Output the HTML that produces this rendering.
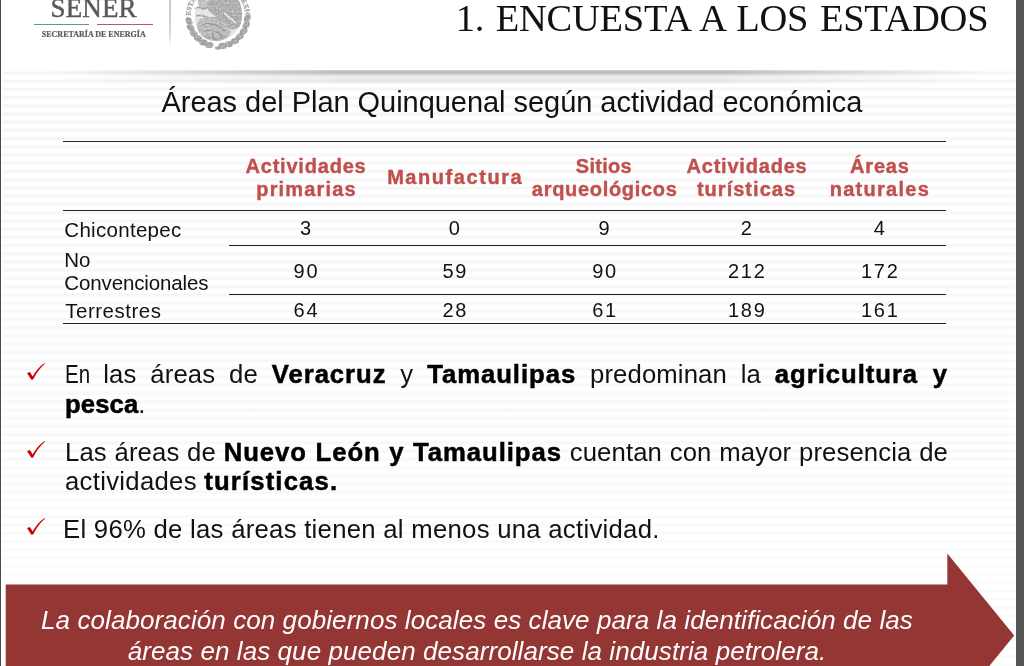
<!DOCTYPE html>
<html lang="es">
<head>
<meta charset="utf-8">
<title>1. Encuesta a los estados</title>
<style>
html,body{margin:0;padding:0;}
body{width:1024px;height:666px;overflow:hidden;position:relative;background:#fff;font-family:"Liberation Sans",sans-serif;color:#111;}
.abs{position:absolute;white-space:nowrap;}
#stripes{position:absolute;left:2px;top:71px;width:1012.5px;height:595px;
  background:linear-gradient(to bottom,rgba(255,255,255,0) 0,rgba(255,255,255,.55) 100%),
  repeating-linear-gradient(to bottom,#fbfbfb 0px,#f5f5f5 1.4px,#f5f5f5 2.2px,#fbfbfb 3.5px,#ffffff 4.1px,#ffffff 7.7px,#fbfbfb 8.223px);}
#lborder{position:absolute;left:0;top:0;width:2px;height:666px;background:linear-gradient(to right,#4a4a4a 0,#4a4a4a 1px,#b5b5b5 1px,#b5b5b5 1.4px,#fff 1.4px);}
#rborder{position:absolute;left:1016px;top:0;width:8px;height:666px;background:#555;}
#shadow{position:absolute;left:2px;top:69.8px;width:1014px;height:14px;
  background:linear-gradient(to bottom,rgba(0,0,0,0) 0,rgba(0,0,0,.235) 0.6px,rgba(0,0,0,.22) 3.4px,rgba(0,0,0,.12) 5px,rgba(0,0,0,.07) 7px,rgba(0,0,0,.05) 13px,rgba(0,0,0,0) 13.8px);
  -webkit-mask-image:linear-gradient(to right,rgba(0,0,0,0) 50px,rgba(0,0,0,.5) 200px,#000 340px,#000 720px,rgba(0,0,0,.45) 860px,rgba(0,0,0,0) 985px);
  mask-image:linear-gradient(to right,rgba(0,0,0,0) 50px,rgba(0,0,0,.5) 200px,#000 340px,#000 720px,rgba(0,0,0,.45) 860px,rgba(0,0,0,0) 985px);}
#title{left:455.7px;top:-5.4px;letter-spacing:-0.25px;word-spacing:2.3px;font-family:"Liberation Serif",serif;font-size:38.5px;line-height:46px;color:#111;}
#subtitle{left:161.5px;top:84px;font-size:29px;letter-spacing:-0.04px;line-height:36px;color:#111;}

/* logo */
#sener{left:50.6px;top:-9.6px;font-family:"Liberation Serif",serif;font-size:27px;line-height:36px;color:#595959;-webkit-text-stroke:0.45px #595959;letter-spacing:0.1px;}
#gline{position:absolute;left:34px;top:23.5px;width:55px;height:1.6px;background:#5d9e7d;}
#rline{position:absolute;left:97px;top:23.5px;width:56px;height:1.6px;background:#c4516e;}
#secre{left:41.8px;top:29.3px;font-family:"Liberation Serif",serif;font-weight:bold;font-size:8px;line-height:12px;color:#5a5a5a;-webkit-text-stroke:0.2px #5a5a5a;}
#vdiv{position:absolute;left:169px;top:-2px;width:2.2px;height:49px;background:linear-gradient(to bottom,#c9c9c9 0,#d2d2d2 65%,rgba(225,225,225,0) 100%);filter:blur(0.5px);}

/* table */
.hl{position:absolute;height:1.3px;background:#222;}
.th{position:absolute;text-align:center;font-weight:bold;font-size:20px;line-height:24px;color:#c0504d;-webkit-text-stroke:0.4px #c0504d;white-space:nowrap;transform:translateX(-50%);}
.td{position:absolute;text-align:center;font-size:20px;line-height:24px;color:#111;white-space:nowrap;transform:translateX(-50%);letter-spacing:1.7px;margin-left:0.85px;}
.rl{position:absolute;left:65px;font-size:20.5px;line-height:23.5px;color:#111;white-space:nowrap;}

/* bullets */
.bl{position:absolute;left:65px;width:883px;font-size:25.7px;line-height:30px;color:#111;}
.bl{letter-spacing:0.12px;}
.bl b{font-weight:bold;color:#000;letter-spacing:0.95px;-webkit-text-stroke:0.5px #000;}
.ck{position:absolute;left:26.7px;width:18px;height:18px;overflow:visible;}

/* banner */
#arrow{position:absolute;left:0;top:540px;width:1024px;height:126px;}
#btext{position:absolute;left:6px;width:942px;top:604.9px;text-align:center;font-style:italic;font-size:26px;line-height:30.7px;color:#fff;white-space:nowrap;letter-spacing:0.08px;}
</style>
</head>
<body>
<div id="stripes"></div>
<div id="shadow"></div>
<div id="lborder"></div>
<div id="rborder"></div>

<!-- logo -->
<div id="sener" class="abs">SENER</div>
<div id="gline"></div><div id="rline"></div>
<div id="secre" class="abs">SECRETARÍA DE ENERGÍA</div>
<div id="vdiv"></div>
<svg id="emblem" class="abs" style="left:180px;top:-21.5px" width="76" height="76" viewBox="-38 -38 76 76">
  <defs>
    <filter id="tx" x="-5%" y="-5%" width="110%" height="110%">
      <feTurbulence type="fractalNoise" baseFrequency="0.55" numOctaves="2" seed="7" result="n"/>
      <feColorMatrix in="n" type="matrix" values="0 0 0 0 0  0 0 0 0 0  0 0 0 0 0  0 0 0 -1.2 1.5" result="a"/>
      <feComposite in="SourceGraphic" in2="a" operator="in" result="c"/>
      <feGaussianBlur in="c" stdDeviation="0.6"/>
    </filter>
    <path id="arc" d="M -27.6 -1 A 27.6 27.6 0 0 1 27.6 -1"/>
  </defs>
  <g filter="url(#tx)">
    <circle cx="0" cy="0" r="23.5" fill="#e4e4e4"/>
    <text font-family="Liberation Serif,serif" font-weight="bold" font-size="6.8" fill="#969696" stroke="#969696" stroke-width="0.3" letter-spacing="0.15"><textPath href="#arc" startOffset="0.3">ESTADOS UNIDOS MEXICANOS</textPath></text>
    <g fill="#9c9c9c"><ellipse cx="29.3" cy="1.5" rx="4.3" ry="3.1" transform="rotate(113 29.3 1.5)"/><ellipse cx="28.2" cy="8.1" rx="4.3" ry="3.1" transform="rotate(126 28.2 8.1)"/><ellipse cx="25.6" cy="14.2" rx="4.3" ry="3.1" transform="rotate(139 25.6 14.2)"/><ellipse cx="21.8" cy="19.6" rx="4.3" ry="3.1" transform="rotate(152 21.8 19.6)"/><ellipse cx="16.8" cy="24.0" rx="4.3" ry="3.1" transform="rotate(165 16.8 24.0)"/><ellipse cx="11.0" cy="27.2" rx="4.3" ry="3.1" transform="rotate(178 11.0 27.2)"/><ellipse cx="4.6" cy="28.9" rx="4.3" ry="3.1" transform="rotate(191 4.6 28.9)"/><ellipse cx="-8.6" cy="28.0" rx="4.3" ry="3.1" transform="rotate(177 -8.6 28.0)"/><ellipse cx="-14.6" cy="25.4" rx="4.3" ry="3.1" transform="rotate(190 -14.6 25.4)"/><ellipse cx="-20.0" cy="21.4" rx="4.3" ry="3.1" transform="rotate(203 -20.0 21.4)"/><ellipse cx="-24.3" cy="16.4" rx="4.3" ry="3.1" transform="rotate(216 -24.3 16.4)"/><ellipse cx="-27.4" cy="10.5" rx="4.3" ry="3.1" transform="rotate(229 -27.4 10.5)"/><ellipse cx="-29.0" cy="4.1" rx="4.3" ry="3.1" transform="rotate(242 -29.0 4.1)"/><ellipse cx="0" cy="31" rx="3.4" ry="1.7"/></g>
    <!-- wing -->
    <path d="M -9 -27 C 0 -31 16 -27 21 -16 C 25 -8 25 2 22 9 C 18 14 11 13 7 9 C 2 3 -4 -2 -9 -6 C -12 -12 -12 -22 -9 -27 Z" fill="#a6a6a6"/>
    <!-- head, neck -->
    <path d="M -20 -19 C -15 -24 -10 -22 -9 -17 C -9 -12 -12 -9 -15 -6 C -17 -9 -21 -12 -20 -19 Z" fill="#b9b9b9"/>
    <!-- snake -->
    <path d="M -23 -8 C -19 -13 -16 -6 -12 -9 C -8 -12 -6 -4 -2 -2 M -22 -1 C -16 -4 -12 2 -6 1 C -2 0 2 4 6 6" fill="none" stroke="#a0a0a0" stroke-width="1.8"/>
    <!-- body + cactus -->
    <path d="M -18 2 C -8 -2 2 2 11 10 C 15 14 12 20 5 23 C -4 26 -13 23 -18 17 C -22 12 -22 6 -18 2 Z" fill="#b4b4b4"/>
    <path d="M -16 8 C -8 5 0 8 7 14 M -14 14 C -6 12 0 15 5 19 M -6 16 L -3 23 M 1 14 L 3 22 M -12 19 C -6 23 2 23 8 19" fill="none" stroke="#929292" stroke-width="1.4"/>
    <!-- wing highlight -->
    <path d="M 6 -4 L 18 6" stroke="#f6f6f6" stroke-width="1.2" fill="none"/>
  </g>
</svg>

<div id="title" class="abs">1. ENCUESTA A LOS ESTADOS</div>
<div id="subtitle" class="abs">Áreas del Plan Quinquenal según actividad económica</div>

<!-- table -->
<div class="hl" style="left:63px;width:883px;top:140.7px"></div>
<div class="hl" style="left:63px;width:883px;top:210px"></div>
<div class="hl" style="left:228.5px;width:717.5px;top:245px"></div>
<div class="hl" style="left:228.5px;width:717.5px;top:294px"></div>
<div class="hl" style="left:63px;width:883px;top:323px"></div>

<div class="th" style="left:306.0px;top:153.6px;letter-spacing:0.79px">Actividades</div>
<div class="th" style="left:306.5px;top:177.4px;letter-spacing:1.15px">primarias</div>
<div class="th" style="left:455.2px;top:164.8px;letter-spacing:1.56px">Manufactura</div>
<div class="th" style="left:603.9px;top:153.6px;letter-spacing:0.3px">Sitios</div>
<div class="th" style="left:604.7px;top:177.4px;letter-spacing:0.69px">arqueológicos</div>
<div class="th" style="left:747.0px;top:153.6px;letter-spacing:0.79px">Actividades</div>
<div class="th" style="left:746.5px;top:177.4px;letter-spacing:1.02px">turísticas</div>
<div class="th" style="left:879.9px;top:153.6px;letter-spacing:0.86px">Áreas</div>
<div class="th" style="left:879.9px;top:177.4px;letter-spacing:1.27px">naturales</div>

<div class="rl" style="top:217.7px;left:64.3px;letter-spacing:0.3px">Chicontepec</div>
<div class="rl" style="top:247.8px;left:64.3px;letter-spacing:-0.13px">No<br>Convencionales</div>
<div class="rl" style="top:299px;left:65.3px;letter-spacing:0.5px">Terrestres</div>

<div class="td" style="left:305.6px;top:216.3px">3</div>
<div class="td" style="left:454.4px;top:216.3px">0</div>
<div class="td" style="left:604.2px;top:216.3px">9</div>
<div class="td" style="left:746.4px;top:216.3px">2</div>
<div class="td" style="left:879.4px;top:216.3px">4</div>

<div class="td" style="left:305.6px;top:259px">90</div>
<div class="td" style="left:454.4px;top:259px">59</div>
<div class="td" style="left:604.2px;top:259px">90</div>
<div class="td" style="left:746.4px;top:259px">212</div>
<div class="td" style="left:879.4px;top:259px">172</div>

<div class="td" style="left:305.6px;top:297.6px">64</div>
<div class="td" style="left:454.4px;top:297.6px">28</div>
<div class="td" style="left:604.2px;top:297.6px">61</div>
<div class="td" style="left:746.4px;top:297.6px">189</div>
<div class="td" style="left:879.4px;top:297.6px">161</div>

<!-- bullets -->
<svg class="ck" style="top:362.9px" viewBox="0 0 18 18"><path d="M0.2,10.4 C1,9.3 2.6,9 3.5,9.7 L5.5,13.5 C8.6,8.3 12.6,3.4 17.5,0 L18,0.6 C13.2,5 9.2,10.4 6.4,16 C5.9,17 4.6,17 4.1,16.2 Z" fill="#cc0000"/></svg>
<div class="bl" style="top:358.5px;text-align:justify;text-align-last:justify;white-space:nowrap"><span style="display:inline-block;transform:scaleX(0.8);transform-origin:0 50%;margin-right:-7px;letter-spacing:0">En</span> las áreas de <b>Veracruz</b> y <b>Tamaulipas</b> predominan la <b>agricultura y</b></div>
<div class="bl" style="top:388.5px"><b style="letter-spacing:0.1px">pesca</b>.</div>

<svg class="ck" style="top:440.9px" viewBox="0 0 18 18"><path d="M0.2,10.4 C1,9.3 2.6,9 3.5,9.7 L5.5,13.5 C8.6,8.3 12.6,3.4 17.5,0 L18,0.6 C13.2,5 9.2,10.4 6.4,16 C5.9,17 4.6,17 4.1,16.2 Z" fill="#cc0000"/></svg>
<div class="bl" style="top:436.5px;text-align:justify;text-align-last:justify;white-space:nowrap">Las áreas de <b>Nuevo León y Tamaulipas</b> cuentan con mayor presencia de</div>
<div class="bl" style="top:465.5px;letter-spacing:0.3px">actividades <b style="letter-spacing:1.15px">turísticas.</b></div>

<svg class="ck" style="top:517.9px" viewBox="0 0 18 18"><path d="M0.2,10.4 C1,9.3 2.6,9 3.5,9.7 L5.5,13.5 C8.6,8.3 12.6,3.4 17.5,0 L18,0.6 C13.2,5 9.2,10.4 6.4,16 C5.9,17 4.6,17 4.1,16.2 Z" fill="#cc0000"/></svg>
<div class="bl" style="top:513.5px;white-space:nowrap;left:63px;letter-spacing:0.28px">El 96% de las áreas tienen al menos una actividad.</div>

<!-- banner -->
<svg id="arrow" viewBox="0 540 1024 126"><polygon points="5.7,584.6 947.3,584.6 947.3,553.6 1014.2,635.5 947.3,717.4 947.3,686.6 5.7,686.6" fill="#943634"/></svg>
<div id="btext">La colaboración con gobiernos locales es clave para la identificación de las<br>áreas en las que pueden desarrollarse la industria petrolera.</div>

</body>
</html>
